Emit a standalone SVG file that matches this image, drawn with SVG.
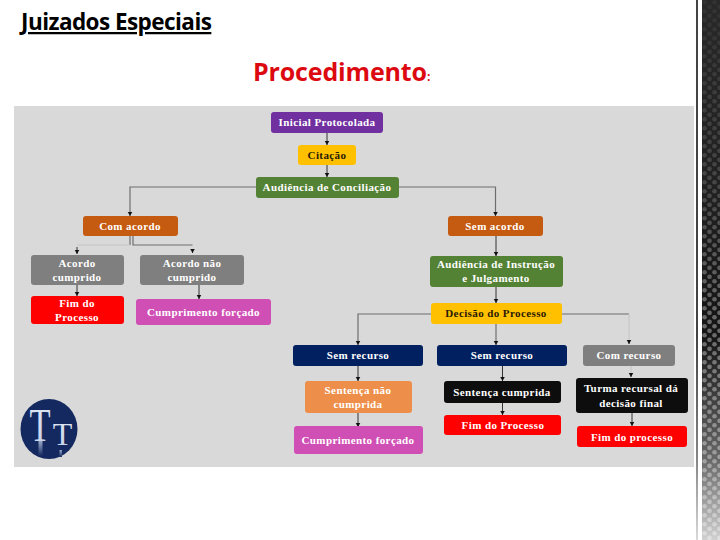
<svg xmlns="http://www.w3.org/2000/svg" width="720" height="540" viewBox="0 0 720 540">
<style>
.n{font-family:"Liberation Serif",serif;font-weight:bold;font-size:11px;text-anchor:middle;fill:#fff;letter-spacing:.4px}
.d{fill:#2a1a05}
.c{fill:none;stroke:#6e6e6e;stroke-width:1.200}
.f{fill:none;stroke:#c4c4c4;stroke-width:1}
.l{fill:none;stroke:#333;stroke-width:1}
.tt{font-family:"Liberation Serif",serif;fill:url(#t);text-anchor:middle}
</style>
<defs>
<marker id="a" markerWidth="6" markerHeight="6" refX="4.500" refY="3" orient="auto" markerUnits="userSpaceOnUse"><path d="M0 .5L4.500 3L0 5.500z" fill="#111"/></marker>
<pattern id="dots" x="702" width="10" height="9" patternUnits="userSpaceOnUse"><rect width="10" height="9" fill="#151515"/><circle cx="2.500" cy="2.300" r="2.300" fill="#6a6a6a"/><circle cx="7.500" cy="6.800" r="2.300" fill="#6a6a6a"/></pattern>
<linearGradient id="top" x1="0" y1="0" x2="0" y2="1"><stop offset="0" stop-color="#2b2b2b" stop-opacity=".9"/><stop offset=".35" stop-color="#2b2b2b" stop-opacity=".55"/><stop offset=".6" stop-color="#2b2b2b" stop-opacity="0"/></linearGradient>
<linearGradient id="fade" x1="0" y1="0" x2="0" y2="1"><stop offset=".62" stop-color="#fff" stop-opacity="0"/><stop offset=".85" stop-color="#fff" stop-opacity=".35"/><stop offset="1" stop-color="#fff" stop-opacity=".8"/></linearGradient>
<linearGradient id="t" x1="0" y1="0" x2="0" y2="1"><stop offset="0" stop-color="#e2e9f4"/><stop offset="1" stop-color="#c3cfe4"/></linearGradient>
<linearGradient id="refl" x1="0" y1="0" x2="0" y2="1"><stop offset="0" stop-color="#9aa9c8"/><stop offset="1" stop-color="#14295f"/></linearGradient>
</defs>
<rect width="720" height="540" fill="#fff"/>
<g id="stripe"><rect x="702" width="18" height="540" fill="url(#dots)"/><rect x="702" width="18" height="540" fill="url(#top)"/><rect x="702" width="18" height="540" fill="url(#fade)"/><rect x="696" width="2" height="540" fill="#444"/><rect x="696" width="2" height="540" fill="url(#fade)"/></g>
<text x="21" y="30" style="font-family:'Open Sans','Liberation Sans',sans-serif;font-weight:bold;font-size:22.500px;letter-spacing:-.55px" fill="#000" text-decoration="underline">Juizados Especiais</text>
<text x="253" y="81" style="font-family:'Open Sans','Liberation Sans',sans-serif;font-weight:bold;font-size:25px;letter-spacing:-.15px" fill="#dc0a10">Procedimento<tspan font-size="12">:</tspan></text>
<rect x="14" y="106" width="680" height="361" fill="#d9d9d9"/>
<g id="connectors">
<path class="l" d="M327 133V145" marker-end="url(#a)"/>
<path class="l" d="M327 165V177" marker-end="url(#a)"/>
<path class="c" d="M256 187H130V216" marker-end="url(#a)"/>
<path class="c" d="M399 187H495.500V216" marker-end="url(#a)"/>
<path class="c" d="M130 236V245"/>
<path class="f" d="M130 245H77"/>
<path class="l" d="M77 247V254" marker-end="url(#a)"/>
<path class="c" d="M133 236V245H192.500"/>
<path class="l" d="M192.500 249V253" marker-end="url(#a)"/>
<path class="l" d="M77 285V296" marker-end="url(#a)"/>
<path class="l" d="M199 285V299" marker-end="url(#a)"/>
<path class="l" d="M496 236V256" marker-end="url(#a)"/>
<path class="l" d="M496 287V303" marker-end="url(#a)"/>
<path class="c" d="M431 314H358V345" marker-end="url(#a)"/>
<path class="c" d="M496 324V345" marker-end="url(#a)"/>
<path class="c" d="M562 314H629"/>
<path class="f" d="M629 314V340"/>
<path class="l" d="M629 340V344" marker-end="url(#a)"/>
<path class="l" d="M358 366V381" marker-end="url(#a)"/>
<path class="l" d="M358 413V427" marker-end="url(#a)"/>
<path class="l" d="M502.500 366V381" marker-end="url(#a)"/>
<path class="l" d="M502.500 403V415" marker-end="url(#a)"/>
<path class="f" d="M631 366V373"/>
<path class="l" d="M631 373V377" marker-end="url(#a)"/>
<path class="l" d="M632 413V426" marker-end="url(#a)"/>
</g>
<g id="n1"><rect x="271" y="112" width="112" height="21" rx="3" fill="#7030a0"/><text class="n" x="327" y="126">Inicial Protocolada</text></g>
<g id="n2"><rect x="298" y="145" width="58" height="20" rx="3" fill="#ffc000"/><text class="n d" x="327" y="159">Citação</text></g>
<g id="n3"><rect x="256" y="177" width="143" height="21" rx="3" fill="#548235"/><text class="n" x="327" y="191">Audiência de Conciliação</text></g>
<g id="n4"><rect x="83" y="216" width="95" height="20" rx="3" fill="#c55a11"/><text class="n" x="130" y="230">Com acordo</text></g>
<g id="n5"><rect x="448" y="216" width="95" height="20" rx="3" fill="#c55a11"/><text class="n" x="495" y="230">Sem acordo</text></g>
<g id="n6"><rect x="31" y="255" width="93" height="30" rx="3" fill="#7f7f7f"/><text class="n" x="77" y="267">Acordo</text><text class="n" x="77" y="281">cumprido</text></g>
<g id="n7"><rect x="140" y="255" width="104" height="30" rx="3" fill="#7f7f7f"/><text class="n" x="192" y="267">Acordo não</text><text class="n" x="192" y="281">cumprido</text></g>
<g id="n8"><rect x="31" y="296" width="93" height="28" rx="3" fill="#ff0000"/><text class="n" x="77" y="307">Fim do</text><text class="n" x="77" y="321">Processo</text></g>
<g id="n9"><rect x="136" y="299" width="135" height="26" rx="3" fill="#d04fb5"/><text class="n" x="203.500" y="316">Cumprimento forçado</text></g>
<g id="n10"><rect x="430" y="256" width="133" height="31" rx="3" fill="#548235"/><text class="n" x="496" y="268">Audiência de Instrução</text><text class="n" x="496" y="282">e Julgamento</text></g>
<g id="n11"><rect x="431" y="303" width="131" height="21" rx="3" fill="#ffc000"/><text class="n d" x="496" y="317">Decisão do Processo</text></g>
<g id="n12"><rect x="293" y="345" width="130" height="21" rx="3" fill="#002060"/><text class="n" x="358" y="359">Sem recurso</text></g>
<g id="n13"><rect x="437" y="345" width="130" height="21" rx="3" fill="#002060"/><text class="n" x="502" y="359">Sem recurso</text></g>
<g id="n14"><rect x="583" y="345" width="92" height="21" rx="3" fill="#7f7f7f"/><text class="n" x="629" y="359">Com recurso</text></g>
<g id="n15"><rect x="305" y="381" width="107" height="32" rx="3" fill="#ed8f4a"/><text class="n" x="358" y="394">Sentença não</text><text class="n" x="358" y="408">cumprida</text></g>
<g id="n16"><rect x="444" y="381" width="117" height="22" rx="3" fill="#0d0d0d"/><text class="n" x="502" y="396">Sentença cumprida</text></g>
<g id="n17"><rect x="576" y="378" width="112" height="35" rx="3" fill="#0d0d0d"/><text class="n" x="631" y="392">Turma recursal dá</text><text class="n" x="631" y="407">decisão final</text></g>
<g id="n18"><rect x="294" y="426" width="129" height="28" rx="3" fill="#d04fb5"/><text class="n" x="358" y="444">Cumprimento forçado</text></g>
<g id="n19"><rect x="444" y="415" width="117" height="20" rx="3" fill="#ff0000"/><text class="n" x="503" y="429">Fim do Processo</text></g>
<g id="n20"><rect x="577" y="426" width="110" height="21" rx="3" fill="#ff0000"/><text class="n" x="632" y="441">Fim do processo</text></g>
<g id="logo"><ellipse cx="49" cy="429" rx="28.500" ry="30" fill="#14295f"/>
<rect x="38.500" y="441" width="4" height="15" fill="url(#refl)"/><rect x="59.500" y="450" width="2.500" height="7" fill="url(#refl)"/>
<text class="tt" transform="translate(40 441) scale(.75 1)" font-size="46">T</text>
<text class="tt" x="62.500" y="445" font-size="32">T</text></g>
</svg>
